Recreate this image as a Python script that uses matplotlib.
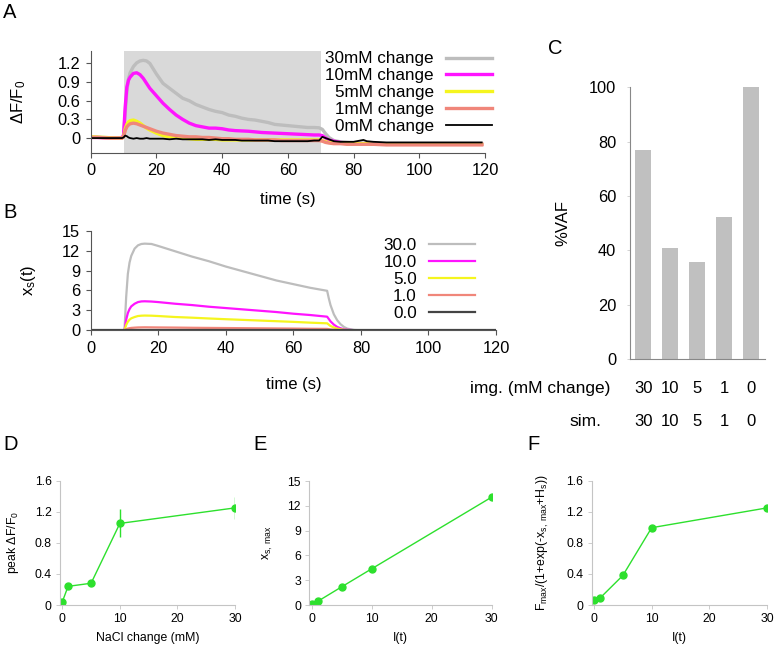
import matplotlib
matplotlib.use("Agg")
import matplotlib.pyplot as plt
import matplotlib.transforms as mtransforms

plt.rcParams['font.family'] = ['Liberation Sans', 'DejaVu Sans']
plt.rcParams['mathtext.fontset'] = 'custom'
plt.rcParams['mathtext.rm'] = 'Liberation Sans'
plt.rcParams['mathtext.it'] = 'Liberation Sans'

# ---------------- data ----------------
# Panel A: imaging traces (dF/F0)
tA = [0, 2, 4, 6, 8, 9.5, 10, 10.5, 11, 11.5, 12, 13, 14, 15, 16, 17, 18, 20, 22, 24, 26, 28,
      30, 32, 34, 36, 38, 40, 42, 44, 46, 48, 50, 52, 54, 56, 58, 60, 62, 64, 66, 68, 69.5,
      70.5, 71.5, 72.5, 74, 76, 78, 80, 82, 83, 84, 86, 90, 95, 100, 105, 110, 115, 119]
a30 = [0.02, 0.015, 0.01, 0.005, 0.0, 0.0, 0.02, 0.4, 0.75, 0.95, 1.05, 1.15, 1.21, 1.24, 1.25, 1.24, 1.2, 1.03, 0.88, 0.8, 0.72, 0.64,
       0.6, 0.54, 0.5, 0.46, 0.43, 0.41, 0.37, 0.35, 0.32, 0.3, 0.29, 0.27, 0.25, 0.22, 0.21, 0.2, 0.19, 0.18, 0.17, 0.17, 0.165,
       0.14, 0.07, 0.01, -0.04, -0.06, -0.07, -0.08, -0.08, -0.08, -0.085, -0.09, -0.09, -0.095, -0.1, -0.1, -0.1, -0.1, -0.1]
a10 = [0.01, 0.01, 0.005, 0.0, 0.0, 0.0, 0.05, 0.5, 0.82, 0.93, 0.98, 1.04, 1.05, 1.02, 0.96, 0.88, 0.8, 0.68, 0.56, 0.46, 0.37, 0.3,
       0.24, 0.2, 0.18, 0.16, 0.16, 0.15, 0.13, 0.12, 0.115, 0.11, 0.1, 0.09, 0.085, 0.08, 0.075, 0.07, 0.065, 0.06, 0.055, 0.05, 0.05,
       0.04, 0.0, -0.03, -0.05, -0.07, -0.08, -0.08, -0.09, -0.09, -0.09, -0.1, -0.1, -0.1, -0.1, -0.1, -0.1, -0.1, -0.1]
a5 = [0.02, 0.015, 0.01, 0.005, 0.0, 0.0, 0.02, 0.15, 0.22, 0.26, 0.28, 0.29, 0.27, 0.24, 0.2, 0.16, 0.13, 0.08, 0.04, 0.02, 0.01, 0.0,
      -0.01, -0.02, -0.02, -0.02, -0.02, -0.03, -0.03, -0.03, -0.03, -0.03, -0.03, -0.03, -0.03, -0.03, -0.03, -0.03, -0.03, -0.03, -0.03, -0.03, -0.03,
      -0.04, -0.06, -0.07, -0.08, -0.08, -0.09, -0.09, -0.09, -0.09, -0.09, -0.1, -0.1, -0.1, -0.1, -0.1, -0.1, -0.1, -0.1]
a1 = [0.01, 0.01, 0.005, 0.0, 0.0, 0.0, 0.02, 0.12, 0.18, 0.21, 0.23, 0.24, 0.23, 0.21, 0.19, 0.17, 0.15, 0.11, 0.08, 0.06, 0.04, 0.03,
      0.02, 0.02, 0.01, 0.01, 0.0, -0.01, -0.01, -0.02, -0.02, -0.02, -0.03, -0.03, -0.03, -0.03, -0.04, -0.04, -0.04, -0.04, -0.04, -0.04, -0.04,
      -0.05, -0.07, -0.08, -0.09, -0.09, -0.1, -0.1, -0.1, -0.1, -0.1, -0.1, -0.11, -0.11, -0.11, -0.11, -0.11, -0.11, -0.11]
a0 = [0.0, 0.0, 0.0, 0.0, 0.0, 0.0, 0.01, 0.04, 0.03, 0.01, 0.0, -0.01, 0.0, -0.01, -0.01, 0.0, -0.01, -0.01, -0.01, -0.02, -0.01, -0.02,
      -0.02, -0.02, -0.02, -0.03, -0.02, -0.03, -0.03, -0.03, -0.04, -0.04, -0.04, -0.04, -0.04, -0.05, -0.05, -0.05, -0.05, -0.05, -0.05, -0.04, -0.04,
      0.02, 0.0, -0.02, -0.05, -0.06, -0.06, -0.06, -0.04, -0.03, -0.05, -0.06, -0.07, -0.07, -0.07, -0.07, -0.07, -0.07, -0.07]
labelsA = ['30mM change', '10mM change', '5mM change', '1mM change', '0mM change']
stim_on, stim_off = 10, 70

# Panel B: simulated x_s(t)
tB = [0, 9.5, 10, 10.5, 11, 11.5, 12, 13, 14, 15, 16, 18, 20, 25, 30, 35, 40, 45, 50, 55, 60, 65, 70,
      70.5, 71, 72, 73, 74, 75, 76, 78, 80, 90, 100, 110, 120]
b30 = [0, 0, 0, 5.0, 8.5, 10.2, 11.2, 12.3, 12.8, 13.0, 13.05, 13.0, 12.7, 11.9, 11.1, 10.4, 9.6, 8.9, 8.2, 7.5, 6.95, 6.4, 5.95,
       4.8, 3.8, 2.4, 1.5, 0.9, 0.5, 0.25, 0.05, 0, 0, 0, 0, 0]
b10 = [0, 0, 0, 1.6, 2.6, 3.2, 3.6, 4.0, 4.25, 4.35, 4.37, 4.33, 4.25, 4.0, 3.8, 3.55, 3.35, 3.15, 2.95, 2.75, 2.5, 2.3, 2.05,
       1.7, 1.35, 0.85, 0.5, 0.3, 0.15, 0.08, 0.02, 0, 0, 0, 0, 0]
b5 = [0, 0, 0, 0.8, 1.3, 1.6, 1.8, 2.0, 2.15, 2.2, 2.22, 2.2, 2.15, 2.0, 1.9, 1.78, 1.67, 1.57, 1.47, 1.37, 1.27, 1.15, 1.05,
      0.85, 0.65, 0.42, 0.25, 0.15, 0.08, 0.04, 0.01, 0, 0, 0, 0, 0]
b1 = [0, 0, 0, 0.15, 0.26, 0.32, 0.36, 0.4, 0.43, 0.44, 0.45, 0.44, 0.43, 0.41, 0.38, 0.36, 0.34, 0.32, 0.3, 0.28, 0.26, 0.23, 0.21,
      0.17, 0.13, 0.08, 0.05, 0.03, 0.015, 0.01, 0, 0, 0, 0, 0, 0]
b0 = [0] * 36
labelsB = ['30.0', '10.0', '5.0', '1.0', '0.0']

# Panel C: %VAF
vaf = [76.9, 41.0, 35.6, 52.3, 100.0]
img_labels = ['30', '10', '5', '1', '0']
sim_labels = ['30', '10', '5', '1', '0']

# Panels D-F
conc = [0, 1, 5, 10, 30]
peak_dff = [0.04, 0.24, 0.28, 1.05, 1.25]
peak_err = [0.02, 0.02, 0.02, 0.18, 0.145]
xs_max = [0.08, 0.44, 2.2, 4.38, 13.05]
f_pred = [0.064, 0.086, 0.38, 0.995, 1.25]

colors = ['#bdbdbd', '#ff14ff', '#f5f51e', '#f0867a', '#000000']
green = '#2de02d'

# ---------------- figure ----------------
W, H = 778, 647
fig = plt.figure(figsize=(W / 100, H / 100), dpi=100)

def ax_px(l, t, r, b):
    return fig.add_axes([l / W, 1 - b / H, (r - l) / W, (b - t) / H])

def label_px(ax, xlabel_y=None, ylabel_x=None):
    # place axis labels at given pixel positions (centre)
    bb = ax.get_position()
    l, b, w, h = bb.x0 * W, (1 - bb.y1) * H, bb.width * W, bb.height * H
    if xlabel_y is not None:
        ax.xaxis.set_label_coords(0.5, (b + h - xlabel_y) / h)
        ax.xaxis.label.set_va('center')
    if ylabel_x is not None:
        ax.yaxis.set_label_coords((ylabel_x - l) / w, 0.5)
        ax.yaxis.label.set_va('center')

FS = 12
FT = 11.8
FL = 12.3

# ---- Panel A ----
axA = ax_px(90.7, 51, 485, 153)
axA.axvspan(stim_on, stim_off, color='#d9d9d9', lw=0, zorder=0)
seriesA = [a30, a10, a5, a1, a0]
lwsA = [2.4, 2.4, 2.4, 2.4, 1.3]
for y, c, lab, lw in zip(seriesA, colors, labelsA, lwsA):
    axA.plot(tA, y, color=c, lw=lw, label=lab)
axA.set_xlim(0, 120)
axA.set_ylim(-0.24, 1.4)
axA.set_xticks([0, 20, 40, 60, 80, 100, 120])
axA.set_yticks([0, 0.3, 0.6, 0.9, 1.2])
axA.set_yticklabels(['0', '0.3', '0.6', '0.9', '1.2'])
axA.set_xlabel('time (s)', fontsize=FS)
axA.set_ylabel(r'$\Delta$F/F$_0$', fontsize=FS)
label_px(axA, xlabel_y=199, ylabel_x=19)
axA.legend(loc='upper right', bbox_to_anchor=(492 / W, 1 - 51.5 / H), bbox_transform=fig.transFigure,
           frameon=False, markerfirst=False, fontsize=FL, handlelength=2.7, handletextpad=0.7,
           labelspacing=0.105, borderpad=0, borderaxespad=0)

# ---- Panel B ----
axB = ax_px(90.7, 230.7, 496, 330.3)
seriesB = [b30, b10, b5, b1, b0]
colorsB = colors[:4] + ['#444444']
for y, c, lab in zip(seriesB, colorsB, labelsB):
    axB.plot(tB, y, color=c, lw=1.6, label=lab)
axB.set_xlim(0, 120)
axB.set_ylim(0, 15)
axB.set_xticks([0, 20, 40, 60, 80, 100, 120])
axB.set_yticks([0, 3, 6, 9, 12, 15])
axB.set_xlabel('time (s)', fontsize=FS)
axB.set_ylabel(r'x$_\mathrm{s}$(t)', fontsize=FS)
label_px(axB, xlabel_y=385, ylabel_x=28)
axB.legend(loc='upper right', bbox_to_anchor=(475 / W, 1 - 238 / H), bbox_transform=fig.transFigure,
           frameon=False, markerfirst=False, fontsize=FL, handlelength=2.7, handletextpad=0.7,
           labelspacing=0.12, borderpad=0, borderaxespad=0)

for ax in (axA, axB):
    for s in ('top', 'right'):
        ax.spines[s].set_visible(False)
    for s in ('left', 'bottom'):
        ax.spines[s].set_color('#555555')
        ax.spines[s].set_linewidth(0.8)
    ax.tick_params(labelsize=FT, length=3.5, width=0.8, color='#555555', pad=4)

# ---- Panel C ----
axC = ax_px(630, 87.3, 765, 359)
xpos = list(range(len(vaf)))
axC.bar(xpos, vaf, width=0.6, color='#c0c0c0')
axC.set_xlim(-0.5, 4.53)
axC.set_ylim(0, 100)
axC.set_yticks([0, 20, 40, 60, 80, 100])
axC.set_xticks([])
for s in ('top', 'right'):
    axC.spines[s].set_visible(False)
for s in ('left', 'bottom'):
    axC.spines[s].set_color('#888888')
    axC.spines[s].set_linewidth(0.8)
axC.tick_params(labelsize=FT, length=2, width=0.6, color='#cccccc', pad=8)
axC.set_ylabel('%VAF', fontsize=FS)
label_px(axC, ylabel_x=563)
trC = mtransforms.blended_transform_factory(axC.transData, fig.transFigure)
for x, s in zip(xpos, img_labels):
    axC.text(x, 1 - 388.3 / H, s, transform=trC, ha='center', va='center', fontsize=FS)
for x, s in zip(xpos, sim_labels):
    axC.text(x, 1 - 421.7 / H, s, transform=trC, ha='center', va='center', fontsize=FS)
fig.text(610.7 / W, 1 - 388.3 / H, 'img. (mM change)', ha='right', va='center', fontsize=12.5)
fig.text(601.7 / W, 1 - 421.7 / H, 'sim.', ha='right', va='center', fontsize=12.5)

# ---- Panels D, E, F ----
FS2 = 8.8
axD = ax_px(60, 480.7, 235, 605)
axE = ax_px(309.3, 481, 491.7, 605)
axF = ax_px(591.7, 480.7, 767, 605)

axD.errorbar(conc, peak_dff, yerr=peak_err, color=green, lw=1.0, marker='o', ms=5, elinewidth=1.0, capsize=0)
axE.plot(conc, xs_max, color=green, lw=1.0, marker='o', ms=5)
axF.plot(conc, f_pred, color=green, lw=1.0, marker='o', ms=5)

for ax in (axD, axE, axF):
    for s in ('top', 'right'):
        ax.spines[s].set_visible(False)
    for s in ('left', 'bottom'):
        ax.spines[s].set_color('#c4c4c4')
        ax.spines[s].set_linewidth(0.8)
    ax.tick_params(labelsize=FS2, length=3, width=0.6, color='#c4c4c4', pad=3)
    ax.set_xlim(-0.4, 30)
    ax.set_xticks([0, 10, 20, 30])

for ax in (axD, axF):
    ax.set_ylim(0, 1.6)
    ax.set_yticks([0, 0.4, 0.8, 1.2, 1.6])
    ax.set_yticklabels(['0', '0.4', '0.8', '1.2', '1.6'])
axE.set_ylim(0, 15)
axE.set_yticks([0, 3, 6, 9, 12, 15])

axD.set_xlabel('NaCl change (mM)', fontsize=FS2)
axD.set_ylabel(r'peak $\Delta$F/F$_0$', fontsize=FS2)
axE.set_xlabel('I(t)', fontsize=FS2)
axE.set_ylabel(r'x$_\mathrm{s,\ max}$', fontsize=FS2)
axF.set_xlabel('I(t)', fontsize=FS2)
axF.set_ylabel(r'F$_\mathrm{max}$/(1+exp(-x$_\mathrm{s,\ max}$+H$_\mathrm{s}$))', fontsize=FS2)
label_px(axD, xlabel_y=638, ylabel_x=13)
label_px(axE, xlabel_y=638, ylabel_x=268)
label_px(axF, xlabel_y=638, ylabel_x=543)

# ---- panel letters ----
for lab, x, y in [('A', 3, 12), ('B', 3, 213), ('C', 548, 48), ('D', 3, 445), ('E', 253, 445), ('F', 527, 445)]:
    fig.text(x / W, 1 - y / H, lab, ha='left', va='center', fontsize=14.5)

fig.savefig('out.png', dpi=100)
